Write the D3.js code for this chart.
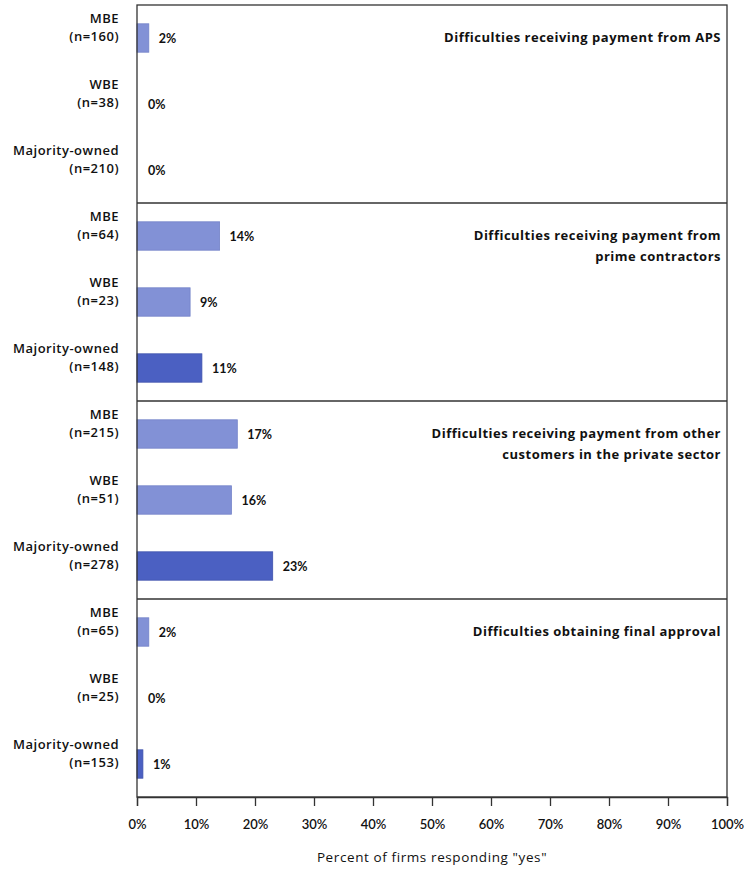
<!DOCTYPE html>
<html>
<head>
<meta charset="utf-8">
<script src="https://cdn.jsdelivr.net/npm/d3@7/dist/d3.min.js"></script>
<style>
  html, body { margin: 0; padding: 0; background: #fff; }
  svg { display: block; font-family: "Open Sans", Lato, sans-serif; }
</style>
</head>
<body>
<svg id="chart" width="747" height="873"></svg>
<script>
// Survey panels: each issue shows the share of firms answering "yes"
const panelTitles = [
  ["Difficulties receiving payment from APS"],
  ["Difficulties receiving payment from", "prime contractors"],
  ["Difficulties receiving payment from other", "customers in the private sector"],
  ["Difficulties obtaining final approval"]
];
const groups = ["MBE", "WBE", "Majority-owned"];
const sampleSizes = [
  [160, 38, 210],
  [64, 23, 148],
  [215, 51, 278],
  [65, 25, 153]
];
const percentYes = [
  [2, 0, 0],
  [14, 9, 11],
  [17, 16, 23],
  [2, 0, 1]
];
const xTicks = [0, 10, 20, 30, 40, 50, 60, 70, 80, 90, 100];

const svg = d3.select("#chart");
const plotLeft = 137, plotRight = 727, plotTop = 5, plotBottom = 797;
const colors = { light: "#8291d6", dark: "#4b60c2" };
const wordFont = "'Open Sans', Lato, sans-serif";
const numFont = "Lato, 'Open Sans', sans-serif";

const x = d3.scaleLinear().domain([0, 100]).range([plotLeft, plotRight]);
const panelY = d3.scaleBand().domain(d3.range(panelTitles.length)).range([plotTop, plotBottom]);
const rowY = d3.scaleBand().domain(groups).range([0, panelY.bandwidth()]).paddingInner(0.57).paddingOuter(0.285);

panelTitles.forEach((title, p) => {
  const g = svg.append("g").attr("transform", `translate(0,${panelY(p)})`);

  groups.forEach((grp, i) => {
    const v = percentYes[p][i];
    const y0 = rowY(grp);
    const cy = y0 + rowY.bandwidth() / 2;
    if (v > 0) {
      g.append("rect")
        .attr("x", x(0)).attr("y", y0)
        .attr("width", x(v) - x(0)).attr("height", rowY.bandwidth())
        .attr("fill", grp === "Majority-owned" ? colors.dark : colors.light)
        .attr("stroke", grp === "Majority-owned" ? "#3f52ad" : "#7382c8")
        .attr("stroke-width", 0.8);
    }
    g.append("text")
      .attr("x", x(v) + (v > 0 ? 10 : 11)).attr("y", cy + 4.5)
      .attr("font-family", numFont)
      .attr("font-size", 12.5).attr("font-weight", 700).attr("fill", "#111")
      .text(v + "%");

    const lab = g.append("text")
      .attr("text-anchor", "end").attr("font-family", wordFont)
      .attr("font-size", 13).attr("font-weight", 600)
      .attr("letter-spacing", 0.5)
      .attr("fill", "#111");
    lab.append("tspan").attr("x", 119).attr("y", cy - 15.5).text(grp);
    lab.append("tspan").attr("x", 119).attr("y", cy + 2.5).text(`(n=${sampleSizes[p][i]})`);
  });

  const t = g.append("text")
    .attr("text-anchor", "end").attr("font-family", wordFont)
    .attr("font-size", 13).attr("font-weight", 700)
    .attr("letter-spacing", 0.5)
    .attr("fill", "#111");
  title.forEach((line, k) => {
    t.append("tspan").attr("x", 721).attr("y", 37 + k * 21).text(line);
  });

  if (p > 0) {
    svg.append("line")
      .attr("x1", plotLeft).attr("x2", plotRight)
      .attr("y1", panelY(p)).attr("y2", panelY(p))
      .attr("stroke", "#333").attr("stroke-width", 1.3);
  }
});

// outer frame
svg.append("rect")
  .attr("x", plotLeft).attr("y", plotTop)
  .attr("width", plotRight - plotLeft).attr("height", plotBottom - plotTop)
  .attr("fill", "none").attr("stroke", "#333").attr("stroke-width", 1.3);

// x axis
const xAxis = d3.axisBottom(x).tickValues(xTicks).tickFormat(d => d + "%").tickSize(9).tickPadding(14);
const ax = svg.append("g").attr("transform", `translate(0,${plotBottom})`).call(xAxis);
ax.select(".domain").attr("stroke", "#333").attr("stroke-width", 1.3);
ax.selectAll(".tick line").attr("stroke", "#333").attr("stroke-width", 1.3);
ax.selectAll(".tick text")
  .attr("font-family", numFont)
  .attr("font-size", 13).attr("font-weight", 600).attr("fill", "#111");

svg.append("text")
  .attr("x", (plotLeft + plotRight) / 2).attr("y", 862)
  .attr("text-anchor", "middle").attr("font-family", wordFont)
  .attr("font-size", 13.5).attr("letter-spacing", 0.6).attr("fill", "#111")
  .text('Percent of firms responding "yes"');
</script>
</body>
</html>
